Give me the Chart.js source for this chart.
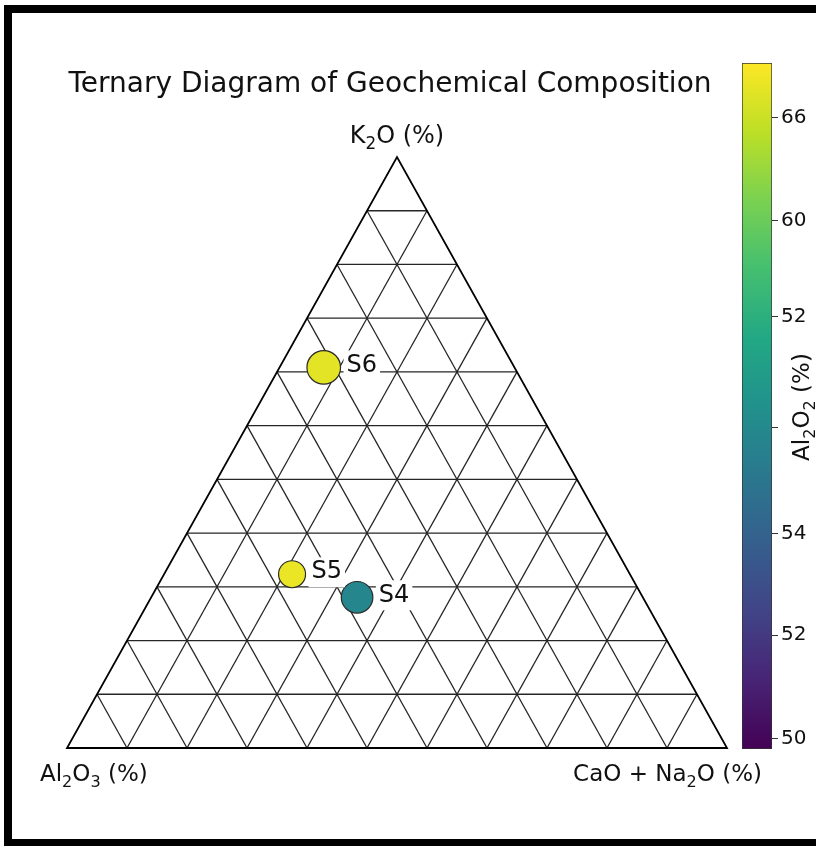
<!DOCTYPE html>
<html>
<head>
<meta charset="utf-8">
<script src="https://cdn.jsdelivr.net/npm/chart.js@4/dist/chart.umd.min.js"></script>
<style>
    html, body { margin: 0; padding: 0; background: #fff; overflow: hidden; }
    #wrap { position: relative; width: 816px; height: 846px; overflow: hidden; }
    #frame { position: absolute; left: 4px; top: 5px; width: 840px; height: 826px; border: 8px solid #000; }
    #mainChart { position: absolute; left: 0; top: 0; }
    #cbChart { position: absolute; left: 742px; top: 0; }
</style>
</head>
<body>
<div id="wrap">
    <div id="frame"></div>
    <canvas id="mainChart" width="816" height="846"></canvas>
    <canvas id="cbChart" width="74" height="846"></canvas>
</div>
<script>
// sample data (percent of the three components)
const samples = ['S4', 'S5', 'S6'];
const k2o = [25.5, 29.4, 64.4];
const caoNa2o = [31.2, 19.4, 6.7];
const al2o3 = [43.3, 51.2, 28.9];
// marker size and colour value (position on the colour bar, 0..1)
const markerSize = [15.8, 13.5, 16.8];
const colorValue = [0.46, 0.97, 0.96];

// colour bar ticks
const cbTicks = [0.015, 0.166, 0.314, 0.469, 0.63, 0.77, 0.92];
const cbLabels = ['50', '52', '54', '', '52', '60', '66'];

const gridDivisions = 11;
const FONT = "'DejaVu Sans', sans-serif";

const viridisStops = ['#440154', '#482475', '#414487', '#355f8d', '#2a788e', '#21918c',
    '#22a884', '#44bf70', '#7ad151', '#bddf26', '#fde725'];

function hexToRgb(h) {
    return [parseInt(h.substr(1, 2), 16), parseInt(h.substr(3, 2), 16), parseInt(h.substr(5, 2), 16)];
}
function viridis(t) {
    t = Math.max(0, Math.min(1, t));
    const pos = t * (viridisStops.length - 1);
    const i = Math.min(Math.floor(pos), viridisStops.length - 2);
    const f = pos - i;
    const a = hexToRgb(viridisStops[i]), b = hexToRgb(viridisStops[i + 1]);
    const c = a.map((v, k) => Math.round(v + (b[k] - v) * f));
    return `rgb(${c[0]}, ${c[1]}, ${c[2]})`;
}

// draw text with subscripts: parts = [[text, isSub], ...]
function drawRich(ctx, parts, x, y, size, align) {
    let total = 0;
    parts.forEach(p => {
        ctx.font = `${p[1] ? size * 0.7 : size}px ${FONT}`;
        total += ctx.measureText(p[0]).width;
    });
    let cx = align === 'center' ? x - total / 2 : align === 'right' ? x - total : x;
    ctx.textAlign = 'left';
    ctx.textBaseline = 'alphabetic';
    parts.forEach(p => {
        ctx.font = `${p[1] ? size * 0.7 : size}px ${FONT}`;
        ctx.fillText(p[0], cx, p[1] ? y + size * 0.25 : y);
        cx += ctx.measureText(p[0]).width;
    });
}

// ternary -> cartesian (x along base, y = height fraction)
const points = samples.map((s, i) => ({
    x: caoNa2o[i] / 100 + k2o[i] / 200,
    y: k2o[i] / 100,
    r: markerSize[i]
}));

const ternaryPlugin = {
    id: 'ternary',
    beforeDatasetsDraw(chart) {
        const ctx = chart.ctx;
        const xs = chart.scales.x, ys = chart.scales.y;
        const P = (X, Y) => [xs.getPixelForValue(X), ys.getPixelForValue(Y)];
        function seg(a, b) {
            ctx.beginPath();
            ctx.moveTo(a[0], a[1]);
            ctx.lineTo(b[0], b[1]);
            ctx.stroke();
        }
        ctx.save();
        ctx.strokeStyle = '#262626';
        ctx.lineWidth = 1.3;
        for (let i = 1; i < gridDivisions; i++) {
            const t = i / gridDivisions;
            seg(P(t / 2, t), P(1 - t / 2, t));
            seg(P(t, 0), P(t + (1 - t) / 2, 1 - t));
            seg(P(1 - t, 0), P((1 - t) / 2, 1 - t));
        }
        ctx.strokeStyle = '#000';
        ctx.lineWidth = 1.8;
        ctx.beginPath();
        const a = P(0, 0), b = P(1, 0), c = P(0.5, 1);
        ctx.moveTo(a[0], a[1]);
        ctx.lineTo(b[0], b[1]);
        ctx.lineTo(c[0], c[1]);
        ctx.closePath();
        ctx.stroke();
        ctx.restore();
    },
    afterDatasetsDraw(chart) {
        const ctx = chart.ctx;
        const meta = chart.getDatasetMeta(0);
        ctx.save();
        ctx.font = `24px ${FONT}`;
        ctx.textBaseline = 'middle';
        ctx.textAlign = 'left';
        meta.data.forEach((el, i) => {
            const left = el.x + markerSize[i] + 6;
            const y = el.y - 2;
            const w = ctx.measureText(samples[i]).width;
            ctx.fillStyle = '#fff';
            ctx.fillRect(left - 3, y - 15, w + 6, 30);
            ctx.fillStyle = '#111';
            ctx.fillText(samples[i], left, y);
        });
        ctx.restore();
    },
    afterDraw(chart) {
        const ctx = chart.ctx;
        const xs = chart.scales.x;
        ctx.save();
        ctx.fillStyle = '#111';
        drawRich(ctx, [['Ternary Diagram of Geochemical Composition', 0]], 390, 92, 28, 'center');
        drawRich(ctx, [['K', 0], ['2', 1], ['O (%)', 0]], xs.getPixelForValue(0.5), 143, 24, 'center');
        drawRich(ctx, [['Al', 0], ['2', 1], ['O', 0], ['3', 1], [' (%)', 0]], 40, 781, 23, 'left');
        drawRich(ctx, [['CaO + Na', 0], ['2', 1], ['O (%)', 0]], 762, 781, 23, 'right');
        // colour bar title (rotated)
        ctx.translate(809, 407);
        ctx.rotate(-Math.PI / 2);
        drawRich(ctx, [['Al', 0], ['2', 1], ['O', 0], ['2', 1], [' (%)', 0]], 0, 0, 23, 'center');
        ctx.restore();
    }
};

new Chart(document.getElementById('mainChart'), {
    type: 'bubble',
    data: {
        datasets: [{
            data: points,
            backgroundColor: colorValue.map(v => viridis(v)),
            borderColor: '#2a2a2a',
            borderWidth: 1.2,
            hoverRadius: 0,
            clip: false
        }]
    },
    options: {
        responsive: false,
        animation: false,
        events: [],
        layout: { padding: { left: 67, right: 89, top: 157, bottom: 98 } },
        scales: {
            x: { type: 'linear', min: 0, max: 1, display: false },
            y: { type: 'linear', min: 0, max: 1, display: false }
        },
        plugins: { legend: { display: false }, tooltip: { enabled: false } }
    },
    plugins: [ternaryPlugin]
});

// colour bar as a single floating bar filled with the colour map
new Chart(document.getElementById('cbChart'), {
    type: 'bar',
    data: {
        labels: ['cb'],
        datasets: [{
            data: [[0, 1]],
            backgroundColor: function (context) {
                const area = context.chart.chartArea;
                if (!area) return '#21918c';
                const g = context.chart.ctx.createLinearGradient(0, area.bottom, 0, area.top);
                viridisStops.forEach((c, i) => g.addColorStop(i / (viridisStops.length - 1), c));
                return g;
            },
            borderColor: '#333',
            borderWidth: 1,
            borderSkipped: false,
            barPercentage: 1,
            categoryPercentage: 1
        }]
    },
    options: {
        responsive: false,
        animation: false,
        events: [],
        layout: { padding: { left: 0, right: 0, top: 63, bottom: 97 } },
        scales: {
            x: { display: false },
            y: {
                position: 'right',
                min: 0,
                max: 1,
                afterBuildTicks: function (scale) {
                    scale.ticks = cbTicks.map(v => ({ value: v }));
                },
                afterFit: function (scale) {
                    scale.width = 44;
                },
                ticks: {
                    padding: 3,
                    color: '#111',
                    font: { family: FONT, size: 20 },
                    callback: function (value, index) {
                        return cbLabels[index];
                    }
                },
                grid: { drawOnChartArea: false, drawTicks: true, tickLength: 6, color: '#333' },
                border: { display: false }
            }
        },
        plugins: { legend: { display: false }, tooltip: { enabled: false } }
    }
});
</script>
</body>
</html>
